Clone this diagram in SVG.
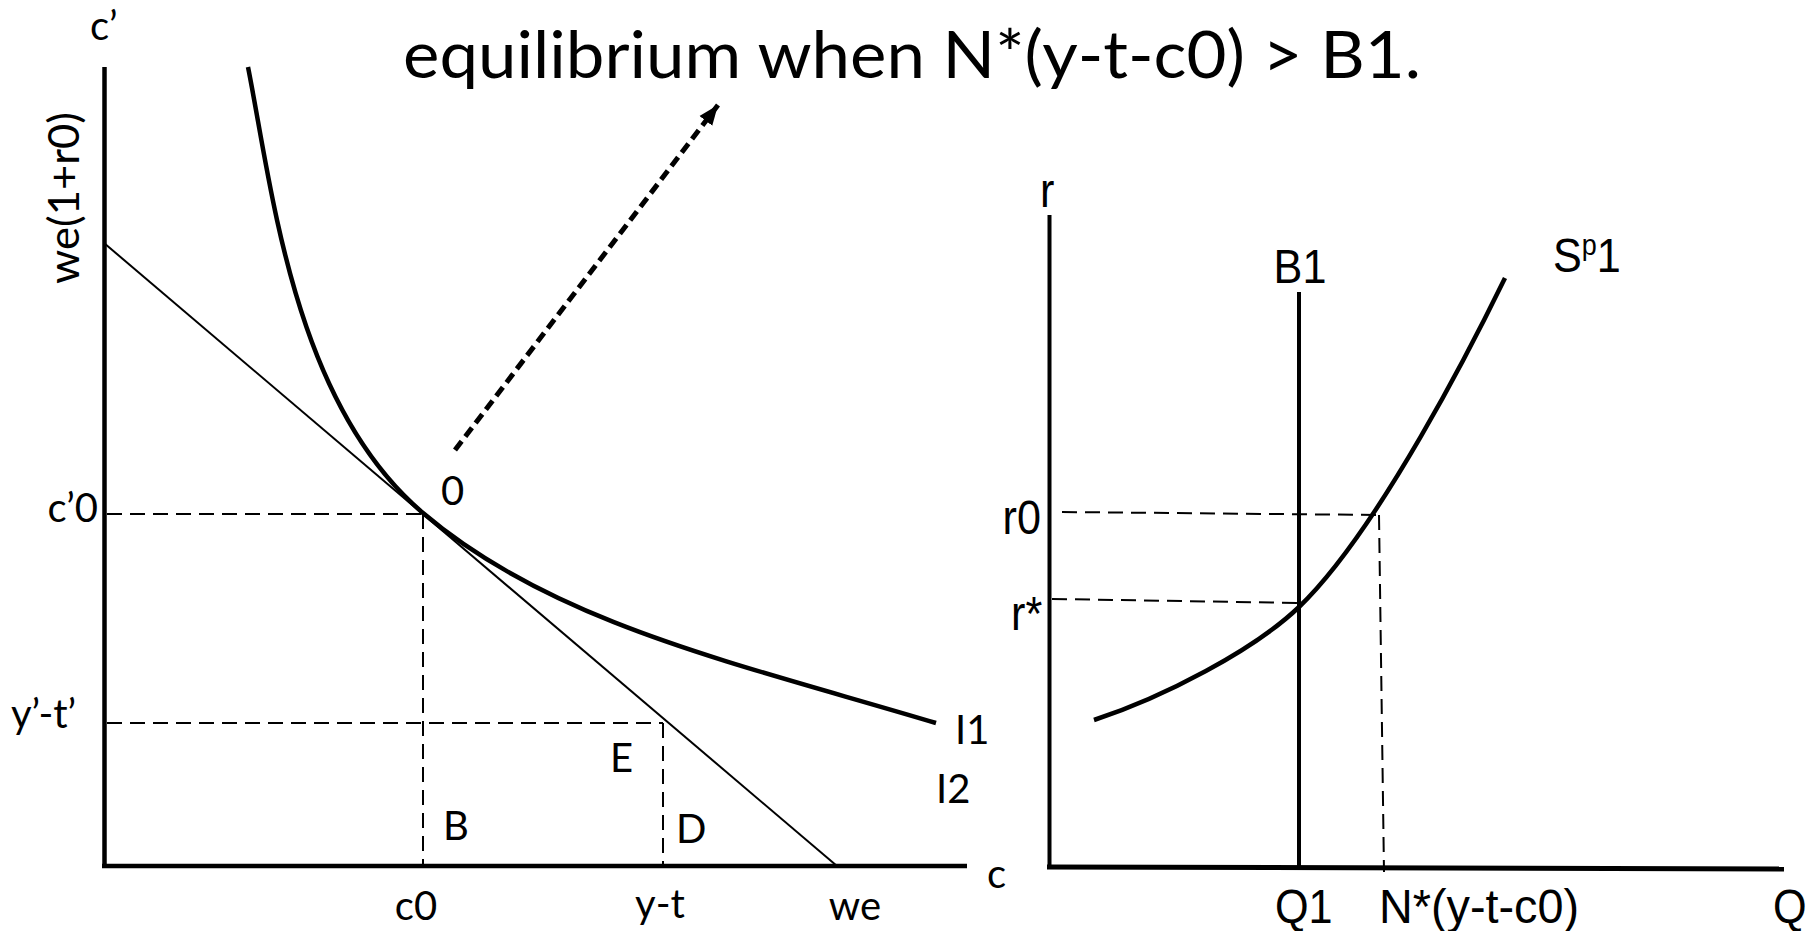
<svg xmlns="http://www.w3.org/2000/svg" width="1820" height="931" viewBox="0 0 1820 931">
<style>
.bg{fill:#fff}
.axis{stroke:#000;stroke-width:4.5;fill:none;stroke-linecap:butt}
.thin{stroke:#000;stroke-width:2;fill:none}
.curve{stroke:#000;stroke-width:4.5;fill:none}
.dash{stroke:#000;stroke-width:2;fill:none;stroke-dasharray:15 8}
.arrow{stroke:#000;stroke-width:5;fill:none;stroke-dasharray:11 6}
.cal{font-family:Lato,"Open Sans",sans-serif;fill:#000}
.ari{font-family:"Liberation Sans",Arial,sans-serif;fill:#000;font-size:48px}
</style>
<defs>
<marker id="ah" markerUnits="userSpaceOnUse" markerWidth="22" markerHeight="22" viewBox="0 0 22 22" refX="20" refY="11" orient="auto">
<path d="M0,3 L20,11 L0,19 Z" fill="#000"/>
</marker>
</defs>
<rect class="bg" x="0" y="0" width="1820" height="931"/>

<text id="title" class="cal" x="403" y="78" font-size="65" textLength="1018" lengthAdjust="spacingAndGlyphs">equilibrium when N*(y-t-c0) &gt; B1.</text>

<g id="left-panel">
  <g id="left-axes">
    <line class="axis" x1="104.5" y1="67" x2="104.5" y2="868"/>
    <line class="axis" x1="102" y1="866" x2="967" y2="866"/>
  </g>
  <g id="budget-line">
    <line class="thin" x1="104" y1="243" x2="837" y2="866"/>
  </g>
  <g id="indifference-I1">
    <path class="curve" d="M248,67 C272,187 293,402.5 423,513 C553,623.5 736,663 936,723"/>
  </g>
  <g id="left-guides">
    <line class="dash" x1="107" y1="514" x2="423" y2="514"/>
    <line class="dash" x1="423" y1="514" x2="423" y2="864"/>
    <line class="dash" x1="107" y1="723" x2="663" y2="723"/>
    <line class="dash" x1="663" y1="723" x2="663" y2="864"/>
  </g>
  <g id="left-labels" class="cal" font-size="40">
    <text x="90" y="40">c’</text>
    <text transform="translate(79,198) rotate(-90)" text-anchor="middle" font-size="42" textLength="172" lengthAdjust="spacingAndGlyphs">we(1+r0)</text>
    <text x="98" y="522" text-anchor="end">c’0</text>
    <text x="11" y="728">y’-t’</text>
    <text x="441" y="505">0</text>
    <text x="443" y="840">B</text>
    <text x="610" y="772">E</text>
    <text x="676" y="843">D</text>
    <text x="955" y="744">I1</text>
    <text x="936" y="803">I2</text>
    <text x="987" y="888">c</text>
    <text x="416" y="920" text-anchor="middle">c0</text>
    <text x="660" y="918" text-anchor="middle">y-t</text>
    <text x="855" y="920" text-anchor="middle">we</text>
  </g>
</g>

<g id="connectors">
  <line class="arrow" x1="455" y1="450" x2="718" y2="105" marker-end="url(#ah)"/>
</g>

<g id="right-panel">
  <g id="right-axes">
    <line class="axis" style="stroke-width:4" x1="1049.5" y1="215" x2="1049.5" y2="869"/>
    <line class="axis" style="stroke-width:5" x1="1047" y1="867" x2="1784" y2="869"/>
  </g>
  <g id="B1-line">
    <line class="axis" style="stroke-width:4" x1="1299" y1="292" x2="1299" y2="867"/>
  </g>
  <g id="supply-Sp1">
    <path class="curve" d="M1094,720 C1164,697 1254,650 1299,607 C1379,530 1475,339.5 1505,278"/>
  </g>
  <g id="right-guides">
    <line class="dash" x1="1062" y1="512" x2="1378" y2="515"/>
    <line class="dash" x1="1052" y1="599" x2="1298" y2="603"/>
    <line class="dash" x1="1379" y1="515" x2="1384" y2="872"/>
  </g>
  <g id="right-labels" class="ari">
    <text transform="translate(1040,207) scale(0.9,1)">r</text>
    <text transform="translate(1300,283) scale(0.9,1)" text-anchor="middle">B1</text>
    <text transform="translate(1553,272) scale(0.9,1)">S<tspan font-size="30" dy="-17">p</tspan><tspan dy="17">1</tspan></text>
    <text transform="translate(1041,534) scale(0.9,1)" text-anchor="end">r0</text>
    <text transform="translate(1011,630) scale(0.9,1)">r*</text>
    <text transform="translate(1275,923) scale(0.9,1)">Q1</text>
    <text x="1379" y="923" textLength="200" lengthAdjust="spacingAndGlyphs">N*(y-t-c0)</text>
    <text transform="translate(1773,923) scale(0.9,1)">Q</text>
  </g>
</g>
</svg>
